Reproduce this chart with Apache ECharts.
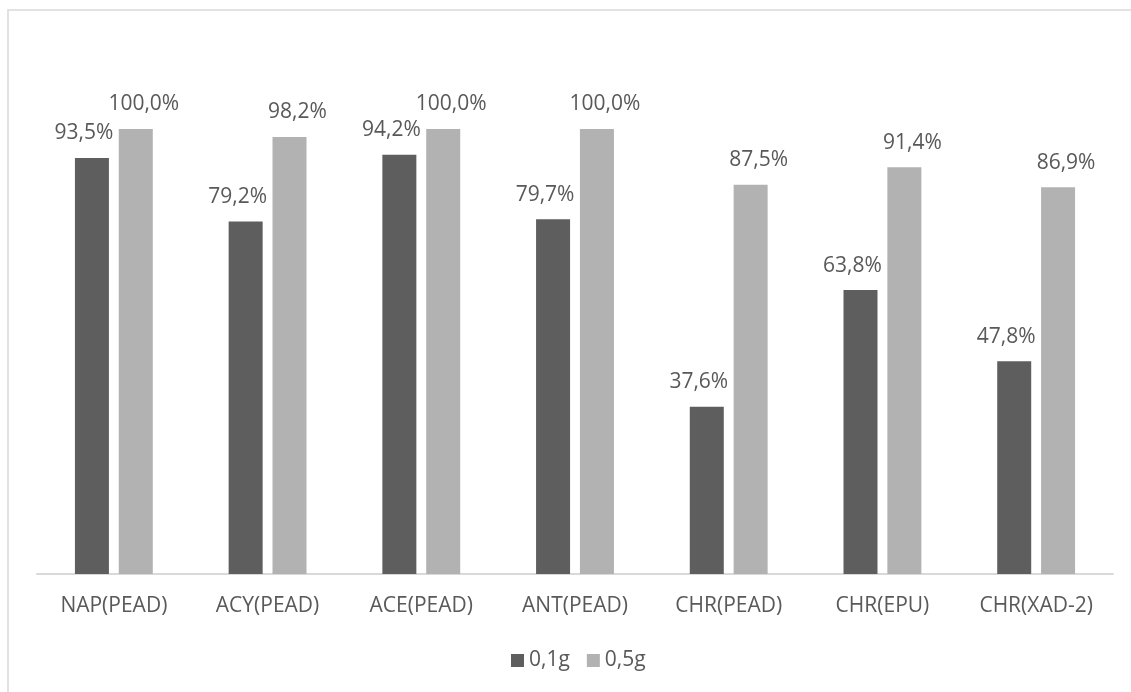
<!DOCTYPE html>
<html>
<head>
<meta charset="utf-8">
<script src="https://cdn.jsdelivr.net/npm/echarts@6/dist/echarts.min.js"></script>
<style>
  html, body { margin: 0; padding: 0; background: #fff; }
  #chart { width: 1131px; height: 692px; }
</style>
</head>
<body>
<div id="chart"></div>
<script>
// Categories (adsorbate / resin) and recovery per sorbent mass
const categories = ['NAP(PEAD)', 'ACY(PEAD)', 'ACE(PEAD)', 'ANT(PEAD)', 'CHR(PEAD)', 'CHR(EPU)', 'CHR(XAD-2)'];
const seriesNames = ['0,1g', '0,5g'];
const values01g = [93.5, 79.2, 94.2, 79.7, 37.6, 63.8, 47.8];
const values05g = [100.0, 98.2, 100.0, 100.0, 87.5, 91.4, 86.9];

const textColor = '#595959';
const fontFamily = '"Open Sans", "Liberation Sans", sans-serif';
const fontSize = 21;

// Percent with a decimal comma, e.g. 93,5%
const fmt = v => v.toFixed(1).replace('.', ',') + '%';

const chart = echarts.init(document.getElementById('chart'), null, { renderer: 'canvas' });

function barSeries(name, data, color, dx) {
  return {
    name: name,
    type: 'bar',
    data: data,
    barWidth: 34,
    barGap: '29%',
    itemStyle: { color: color },
    label: {
      show: true,
      position: 'top',
      distance: 14,
      offset: [dx, 0],
      color: textColor,
      fontSize: fontSize,
      fontFamily: fontFamily,
      formatter: p => fmt(p.value)
    },
    emphasis: { disabled: true }
  };
}

chart.setOption({
  animation: false,
  backgroundColor: '#ffffff',
  graphic: [{
    type: 'rect',
    shape: { x: 8, y: 10, width: 1140, height: 700 },
    style: { fill: 'none', stroke: '#d9d9d9', lineWidth: 1.5 },
    silent: true,
    z: -1
  }],
  grid: { left: 37, right: 18, top: 129, bottom: 118, containLabel: false },
  legend: {
    data: seriesNames,
    left: 511,
    top: 650,
    padding: 0,
    itemWidth: 13,
    itemHeight: 13,
    itemGap: 17,
    icon: 'rect',
    textStyle: { color: textColor, fontSize: fontSize, fontFamily: fontFamily }
  },
  xAxis: {
    type: 'category',
    data: categories,
    axisLine: { show: true, lineStyle: { color: '#d9d9d9', width: 2 } },
    axisTick: { show: false },
    axisLabel: { color: textColor, fontSize: fontSize, fontFamily: fontFamily, margin: 22 }
  },
  yAxis: {
    type: 'value',
    min: 0,
    max: 100,
    show: false,
    splitLine: { show: false }
  },
  series: [
    barSeries(seriesNames[0], values01g, '#5e5e5e', -8),
    barSeries(seriesNames[1], values05g, '#b2b2b2', 8)
  ]
});
</script>
</body>
</html>
